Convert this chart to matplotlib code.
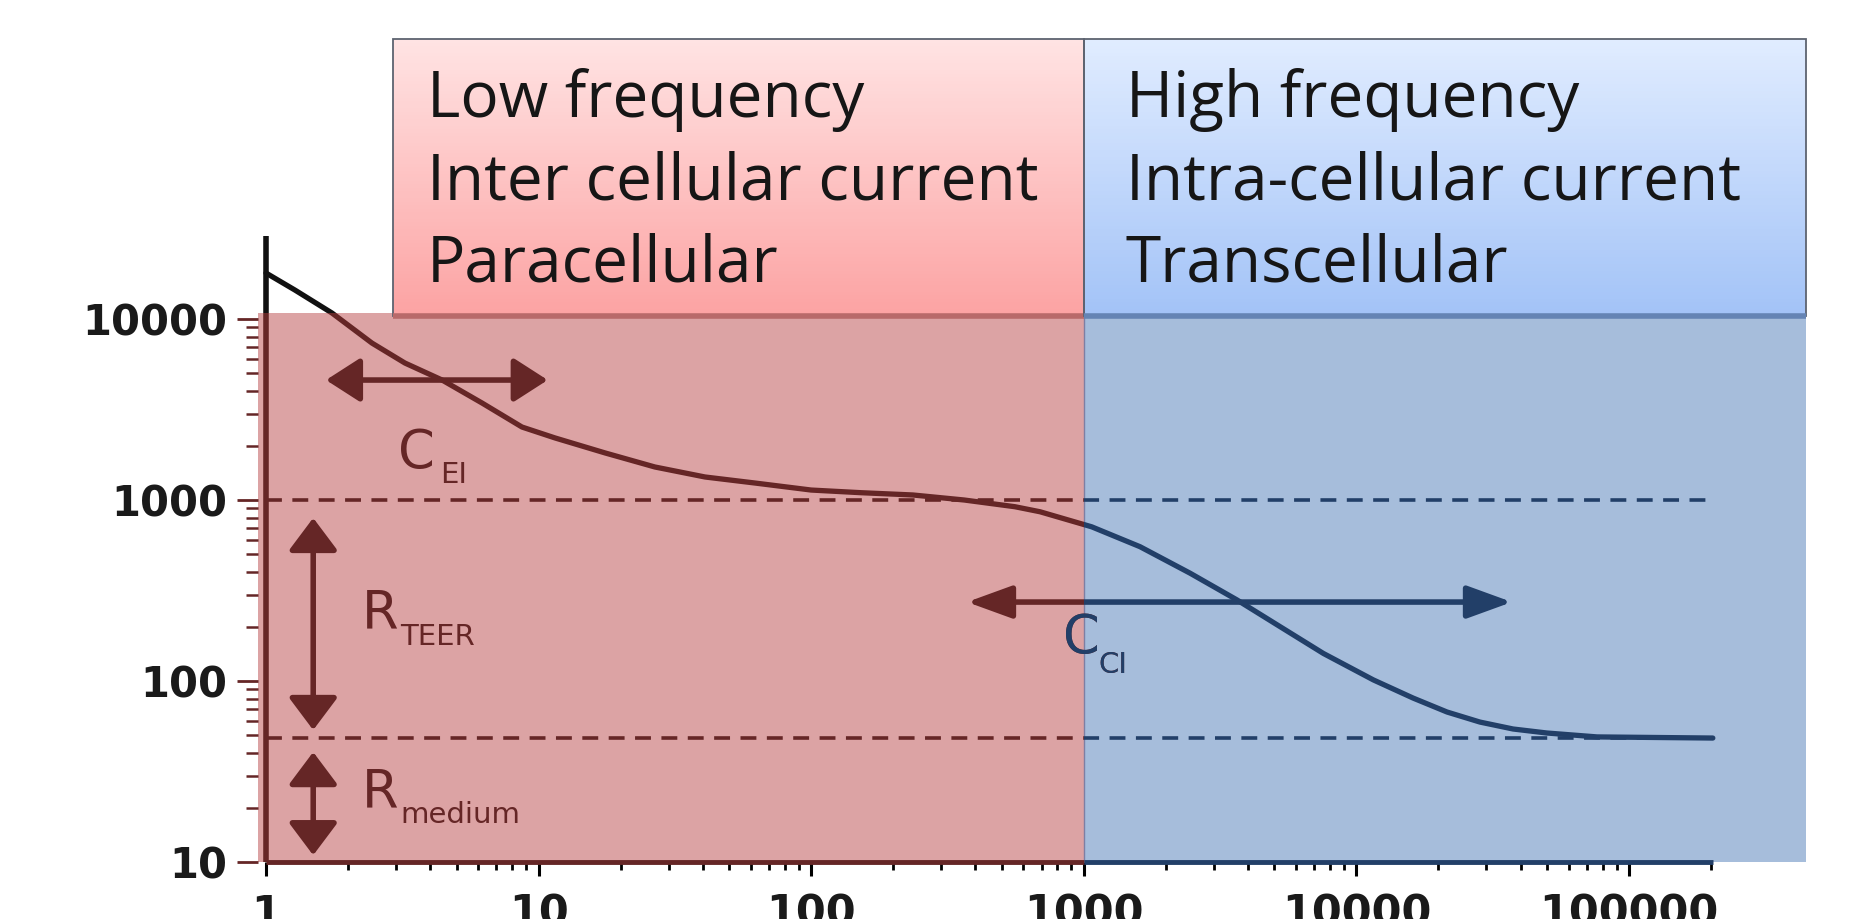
import numpy as np
import matplotlib.pyplot as plt
from matplotlib.patches import Rectangle, FancyArrowPatch
from matplotlib.colors import LinearSegmentedColormap
from matplotlib.ticker import FixedLocator, NullFormatter

# impedance spectrum (frequency in Hz, impedance in Ohm)
freq = [1, 1.277, 1.746, 2.448, 3.234, 4.423, 6.2, 8.69, 11.49, 17.53, 26.7,
        40.8, 62.2, 100, 153, 236, 364, 559, 691, 1069, 1608, 2455, 3640,
        5250, 7565, 11540, 16140, 21500, 28400, 37560, 50000, 76400, 203000]
impedance = [17950, 14450, 10790, 7360, 5710, 4603, 3435, 2530, 2202, 1820,
             1522, 1340, 1241, 1135, 1097, 1066, 1000, 918, 861, 711, 552, 394,
             281, 199.6, 142, 101.4, 80.5, 67.4, 59.3, 54.3, 51.6, 49.1, 48.4]

xticks = [1, 10, 100, 1000, 10000, 100000]
xtick_labels = ['1', '10', '100', '1000', '10000', '100000']
yticks = [10, 100, 1000, 10000]
ytick_labels = ['10', '100', '1000', '10000']

split_freq = 1000
level_teer = 1000
level_medium = 48.4
f_end = 203000

low_lines = ['Low frequency', 'Inter cellular current', 'Paracellular']
high_lines = ['High frequency', 'Intra-cellular current', 'Transcellular']

RED_DARK = '#652626'
BLUE_DARK = '#223F68'
RED_FILL = '#DCA3A4'
BLUE_FILL = '#A6BDDB'

W, H = 1851, 919
dec_x, dec_y = 272.6, 181.0
x_lo = -0.03
x_hi = (W - 266) / dec_x
y_hi = 1 + 862 / dec_y

fig = plt.figure(figsize=(W / 100, H / 100), dpi=100)
left = (266 + x_lo * dec_x) / W
ax = fig.add_axes([left, (H - 862) / H, 1 - left, 862 / H])
ax.set_xscale('log')
ax.set_yscale('log')
for s in ax.spines.values():
    s.set_visible(False)

shade_top = 10800
x_right = 4.46e5

# background regions
ax.fill_between([10 ** x_lo, split_freq], 10, shade_top, color=RED_FILL, lw=0, zorder=0)
ax.fill_between([split_freq, x_right], 10, shade_top, color=BLUE_FILL, lw=0, zorder=0)
ax.plot([split_freq, split_freq], [10, shade_top], color='#7d7fa3', lw=1, zorder=1)

# header boxes with vertical gradient
def header_box(x0, x1, top_col, bot_col, shadow_col):
    y0, y1 = 10400, 3.52e5
    cmap = LinearSegmentedColormap.from_list('g', [bot_col, top_col])
    ys = np.geomspace(y0, y1, 81)
    vals = np.linspace(0, 1, 80).reshape(-1, 1)
    ax.pcolormesh([x0, x1], ys, vals, cmap=cmap, shading='flat', zorder=2)
    ax.add_patch(Rectangle((x0, y0), x1 - x0, y1 - y0, fill=False,
                           ec='#5d6370', lw=1.3, zorder=3))
    ax.plot([x0, x1], [y0, y0], color=shadow_col, lw=4, zorder=3,
            solid_capstyle='butt')

header_box(2.92, split_freq, '#FFE3E3', '#FCA3A3', '#B86A6A')
header_box(split_freq, x_right, '#E0ECFF', '#A3C3F7', '#6584B4')

line_y = [130600, 46000, 16200]
for txt, y in zip(low_lines, line_y):
    ax.text(3.9, y, txt, fontsize=46, family='Open Sans', color='#161616',
            va='baseline', ha='left', zorder=4)
for txt, y in zip(high_lines, line_y):
    ax.text(1428, y, txt, fontsize=46, family='Open Sans', color='#161616',
            va='baseline', ha='left', zorder=4)

# clip regions
clip_top = Rectangle((1e-3, shade_top), 1e9, 1e9, transform=ax.transData)
clip_red = Rectangle((1e-3, 1), split_freq - 1e-3, shade_top - 1, transform=ax.transData)
clip_blue = Rectangle((split_freq, 1), 1e9, 1e9, transform=ax.transData)

# dashed reference levels
for lvl in [level_teer, level_medium]:
    for col, clip in [(RED_DARK, clip_red), (BLUE_DARK, clip_blue)]:
        ln, = ax.plot([1, f_end], [lvl, lvl], color=col, lw=2.6, ls=(0, (4.4, 2.9)), zorder=4)
        ln.set_clip_path(clip)

# impedance curve
for col, clip in [('#111111', clip_top), (RED_DARK, clip_red), (BLUE_DARK, clip_blue)]:
    ln, = ax.plot(freq, impedance, color=col, lw=3.8, zorder=6,
                  solid_capstyle='round', solid_joinstyle='round')
    ln.set_clip_path(clip)

# arrows
def arrow(p0, p1, col, clip=None, hl=0.42, hw=0.27):
    a = FancyArrowPatch(p0, p1, arrowstyle=f'<|-|>,head_length={hl},head_width={hw}',
                        mutation_scale=50, color=col, lw=4, shrinkA=0, shrinkB=0,
                        zorder=5)
    ax.add_patch(a)
    if clip is not None:
        a.set_clip_path(clip)

arrow((1.66, 4600), (10.8, 4600), RED_DARK)
arrow((1.49, 796), (1.49, 53.6), RED_DARK, hl=0.4, hw=0.3)
arrow((1.49, 40.5), (1.49, 10.9), RED_DARK, hl=0.4, hw=0.3)
arrow((373, 273), (37200, 273), RED_DARK, clip_red, hl=0.55, hw=0.2)
arrow((373, 273), (37200, 273), BLUE_DARK, clip_blue, hl=0.55, hw=0.2)

# labels
lab = dict(family='DejaVu Sans', va='baseline', ha='left', zorder=5)
ax.text(3.05, 1503, 'C', fontsize=38, color=RED_DARK, **lab)
ax.text(4.35, 1241, 'EI', fontsize=21, color=RED_DARK, **lab)
ax.text(2.25, 196, 'R', fontsize=38, color=RED_DARK, **lab)
ax.text(3.1, 158, 'TEER', fontsize=21, color=RED_DARK, **lab)
ax.text(2.25, 19.9, 'R', fontsize=38, color=RED_DARK, **lab)
ax.text(3.1, 16.4, 'medium', fontsize=21, color=RED_DARK, **lab)
for col, clip in [(RED_DARK, clip_red), (BLUE_DARK, clip_blue)]:
    t1 = ax.text(839, 143, 'C', fontsize=38, color=col, **lab)
    t2 = ax.text(1130, 110.7, 'CI', fontsize=21, color=col, **lab)
    t1.set_clip_path(clip)
    t2.set_clip_path(clip)

# axis lines
ax.plot([1, 1], [10, shade_top], color=RED_DARK, lw=4, zorder=7, clip_on=False,
        solid_capstyle='butt')
ax.plot([1, 1], [shade_top, 28800], color='#111111', lw=4, zorder=7, clip_on=False,
        solid_capstyle='butt')
ax.plot([1, split_freq], [10, 10], color=RED_DARK, lw=3.5, zorder=7, clip_on=False,
        solid_capstyle='butt')
ax.plot([split_freq, f_end], [10, 10], color=BLUE_DARK, lw=3.5, zorder=7, clip_on=False,
        solid_capstyle='butt')

# ticks
ax.xaxis.set_major_locator(FixedLocator(xticks))
ax.set_xticklabels(xtick_labels)
xminor = [m * 10 ** k for k in range(0, 6) for m in range(2, 10) if m * 10 ** k <= f_end]
ax.xaxis.set_minor_locator(FixedLocator(xminor))
ax.xaxis.set_minor_formatter(NullFormatter())
ax.yaxis.set_major_locator(FixedLocator(yticks))
ax.set_yticklabels(ytick_labels)
yminor = [m * 10 ** k for k in range(1, 4) for m in range(2, 10)]
ax.yaxis.set_minor_locator(FixedLocator(yminor))
ax.yaxis.set_minor_formatter(NullFormatter())

ax.tick_params(axis='x', which='major', length=10, width=2.2, pad=12,
               labelsize=31, labelcolor='#1a1a1a')
ax.tick_params(axis='x', which='minor', length=6, width=2)
ax.tick_params(axis='y', which='major', length=15, width=2, pad=7,
               labelsize=30, labelcolor='#1a1a1a', color=RED_DARK)
ax.tick_params(axis='y', which='minor', length=9, width=1.8, color=RED_DARK)
for lbl in ax.get_xticklabels() + ax.get_yticklabels():
    lbl.set_fontweight('bold')

ax.set_xlim(10 ** x_lo, 10 ** x_hi)
ax.set_ylim(10, 10 ** y_hi)

for t, loc in zip(ax.xaxis.get_major_ticks(), xticks):
    t.tick1line.set_color(RED_DARK if loc <= split_freq else BLUE_DARK)
for t, loc in zip(ax.xaxis.get_minor_ticks(len(xminor)), xminor):
    t.tick1line.set_color(RED_DARK if loc <= split_freq else BLUE_DARK)

fig.savefig('out.png', dpi=100)
